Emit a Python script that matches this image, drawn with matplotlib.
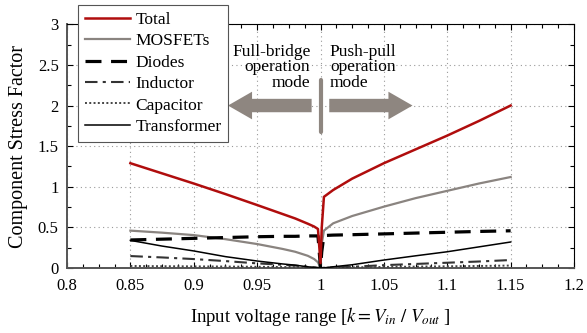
import numpy as np
import matplotlib
matplotlib.use('Agg')
import matplotlib.pyplot as plt
from matplotlib.ticker import MultipleLocator
from matplotlib.patches import FancyArrow

plt.rcParams['font.family'] = ['Liberation Serif', 'DejaVu Serif']
plt.rcParams['mathtext.fontset'] = 'stix'

# input voltage ratio k = Vin/Vout, full-bridge side (k<1) then push-pull side (k>1)
k = [0.85, 0.875, 0.9, 0.925, 0.95, 0.97, 0.98, 0.99, 0.995, 0.998, 1.0,
     1.001, 1.0027, 1.01, 1.025, 1.05, 1.075, 1.1, 1.125, 1.15]

total = [1.29, 1.165, 1.04, 0.91, 0.775, 0.665, 0.61, 0.545, 0.51, 0.48, 0.06,
         0.50, 0.876, 0.96, 1.10, 1.29, 1.46, 1.63, 1.81, 2.0]
mosfets = [0.46, 0.435, 0.405, 0.355, 0.295, 0.235, 0.20, 0.15, 0.11, 0.07, 0.0,
           0.30, 0.46, 0.55, 0.64, 0.755, 0.86, 0.95, 1.04, 1.12]
diodes = [0.345, 0.355, 0.365, 0.375, 0.385, 0.39, 0.39, 0.395, 0.395, 0.395, 0.0,
          0.20, 0.40, 0.405, 0.41, 0.42, 0.43, 0.44, 0.45, 0.458]
inductor = [0.147, 0.13, 0.11, 0.085, 0.057, 0.04, 0.03, 0.015, 0.008, 0.003, 0.0,
            0.0, 0.002, 0.006, 0.015, 0.035, 0.05, 0.065, 0.08, 0.098]
capacitor = [0.025, 0.022, 0.02, 0.018, 0.015, 0.012, 0.01, 0.006, 0.004, 0.002, 0.0,
             0.0, 0.002, 0.004, 0.008, 0.013, 0.017, 0.021, 0.025, 0.03]
transformer = [0.34, 0.27, 0.21, 0.14, 0.086, 0.05, 0.035, 0.015, 0.007, 0.002, 0.0,
               0.0, 0.002, 0.015, 0.04, 0.098, 0.15, 0.20, 0.26, 0.32]

arrow_gray = '#8e8680'
serif = ['Liberation Serif', 'DejaVu Serif']

fig = plt.figure(figsize=(5.87, 3.33), dpi=100)
ax = fig.add_axes([67/587, 1-268/333, (574-67)/587, (268-24.3)/333])

ax.plot(k, total, color='#b00d0d', lw=1.8, label='Total', zorder=6)
ax.plot(k, mosfets, color='#8a8480', lw=1.6, label='MOSFETs', zorder=5)
ax.plot(k, diodes, color='black', lw=2.3, dashes=(5, 3), label='Diodes', zorder=5)
ax.plot(k, inductor, color='#333333', lw=1.5, dashes=(6, 2.5, 1.5, 2.5), label='Inductor', zorder=4)
ax.plot(k, capacitor, color='#444444', lw=1.4, dashes=(1, 1.2), label='Capacitor', zorder=4)
ax.plot(k, transformer, color='black', lw=1.1, label='Transformer', zorder=4)

ax.set_xlim(0.8, 1.2)
ax.set_ylim(0, 3)
ax.xaxis.set_major_locator(MultipleLocator(0.05))
ax.xaxis.set_minor_locator(MultipleLocator(0.0125))
ax.yaxis.set_major_locator(MultipleLocator(0.5))
ax.yaxis.set_minor_locator(MultipleLocator(0.25))
ax.xaxis.set_major_formatter(plt.FuncFormatter(lambda v, p: ('%g' % round(v, 3))))
ax.yaxis.set_major_formatter(plt.FuncFormatter(lambda v, p: ('%g' % round(v, 3))))
ax.tick_params(which='both', direction='in', top=True, right=True, labelsize=12, width=0.8)
ax.tick_params(which='major', length=4)
ax.tick_params(axis='x', which='major', pad=7)
ax.tick_params(axis='y', which='major', pad=6)
ax.tick_params(which='minor', length=3)
for lab in ax.get_xticklabels() + ax.get_yticklabels():
    lab.set_fontfamily(serif)
ax.grid(True, which='major', linestyle=(0, (1, 3)), color='#9a9a9a', lw=0.8)

for s in ['left', 'bottom']:
    ax.spines[s].set_color('#555555')
    ax.spines[s].set_linewidth(1.4)
for s in ['top', 'right']:
    ax.spines[s].set_color('black')
    ax.spines[s].set_linewidth(0.8)

ax.set_xlabel(r'Input voltage range [$k = V_{in}\ /\ V_{out}$ ]', fontsize=13.5, labelpad=8)
ax.set_ylabel('Component Stress Factor', fontsize=14.5, labelpad=7)

# operating mode arrows and divider
ax.add_patch(FancyArrow(0.993, 2.0, -0.066, 0, width=0.165, head_width=0.34,
                        head_length=0.019, length_includes_head=True,
                        color=arrow_gray, lw=0, zorder=7))
ax.add_patch(FancyArrow(1.0069, 2.0, 0.0657, 0, width=0.165, head_width=0.34,
                        head_length=0.019, length_includes_head=True,
                        color=arrow_gray, lw=0, zorder=7))
ax.plot([1.0, 1.0], [1.67, 2.31], color=arrow_gray, lw=3, solid_capstyle='round', zorder=7)
ax.text(0.992, 2.47, 'Full-bridge\noperation\nmode', ha='right', va='center',
        fontsize=12.5, linespacing=0.95, zorder=8)
ax.text(1.0074, 2.47, 'Push-pull\noperation\nmode', ha='left', va='center',
        fontsize=12.5, linespacing=0.95, zorder=8)

leg = ax.legend(loc='upper left', bbox_to_anchor=(78/587, 1-5/333), bbox_transform=fig.transFigure,
                borderaxespad=0, prop={'family': serif, 'size': 12.5}, handlelength=2.6,
                handletextpad=0.3, labelspacing=0.3, borderpad=0.4, fancybox=False, framealpha=1)
leg.get_frame().set_edgecolor('#555555')
leg.get_frame().set_linewidth(0.8)
leg.set_zorder(10)

fig.savefig('out.png', dpi=100)
